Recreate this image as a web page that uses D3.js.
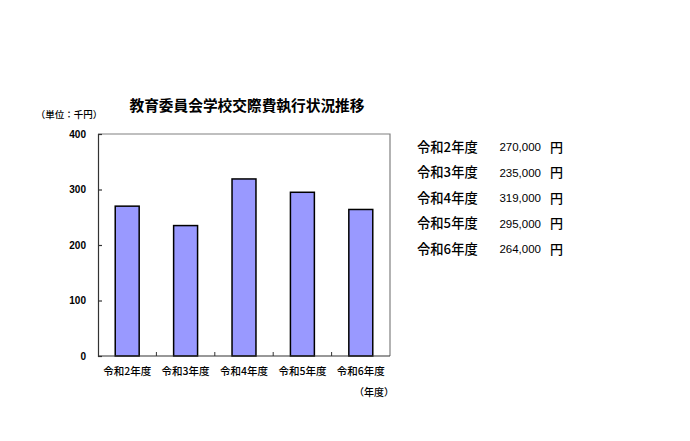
<!DOCTYPE html>
<html>
<head>
<meta charset="utf-8">
<script src="https://cdn.jsdelivr.net/npm/d3@7"></script>
<style>
  body { margin: 0; background: #fff; }
  text { font-family: "Noto Sans CJK JP", "Liberation Sans", sans-serif; fill: #000; }
</style>
</head>
<body>
<script>
const years = ["令和2年度", "令和3年度", "令和4年度", "令和5年度", "令和6年度"];
const amounts = [270, 235, 319, 295, 264]; // 千円
const listAmounts = ["270,000", "235,000", "319,000", "295,000", "264,000"];
const yTicks = [0, 100, 200, 300, 400];

const width = 690;
const height = 441;
const plot = { left: 98, right: 390, top: 134, bottom: 356 };

const svg = d3
  .select("body")
  .append("svg")
  .attr("width", width)
  .attr("height", height);

const x = d3
  .scaleBand()
  .domain(years)
  .range([plot.left, plot.right])
  .paddingInner(0.59)
  .paddingOuter(0.295);

const xEdge = d3
  .scaleBand()
  .domain(years)
  .range([plot.left, plot.right]);

const y = d3.scaleLinear().domain([0, 400]).range([plot.bottom, plot.top]);

// plot frame (top / right in gray)
svg
  .append("path")
  .attr("d", `M${plot.left},${plot.top}H${plot.right}V${plot.bottom}`)
  .attr("fill", "none")
  .attr("stroke", "#808080")
  .attr("stroke-width", 1.2);

// bars
svg
  .append("g")
  .selectAll("rect")
  .data(amounts)
  .join("rect")
  .attr("x", (d, i) => x(years[i]))
  .attr("y", (d) => y(d))
  .attr("width", x.bandwidth())
  .attr("height", (d) => y(0) - y(d))
  .attr("fill", "#9999ff")
  .attr("stroke", "#000")
  .attr("stroke-width", 1.5);

// y axis
const yAxis = svg
  .append("g")
  .attr("transform", `translate(${plot.left},0)`)
  .call(d3.axisRight(y).tickValues(yTicks).tickSize(4).tickFormat(""));
yAxis.selectAll("path, line").attr("stroke", "#333").attr("stroke-width", 1.2);

svg
  .append("g")
  .selectAll("text")
  .data(yTicks)
  .join("text")
  .attr("x", plot.left - 12)
  .attr("y", (d) => y(d))
  .attr("dy", "0.35em")
  .attr("text-anchor", "end")
  .style("font-family", "'Liberation Sans', Arial, sans-serif")
  .style("font-size", "10px")
  .style("font-weight", "bold")
  .text((d) => d);

// x axis: ticks at category boundaries, pointing up
const xAxis = svg.append("g");
xAxis
  .append("line")
  .attr("x1", plot.left)
  .attr("x2", plot.right)
  .attr("y1", plot.bottom)
  .attr("y2", plot.bottom)
  .attr("stroke", "#333")
  .attr("stroke-width", 1.2);
xAxis
  .selectAll(".tick")
  .data(years.slice(1))
  .join("line")
  .attr("x1", (d) => xEdge(d))
  .attr("x2", (d) => xEdge(d))
  .attr("y1", plot.bottom)
  .attr("y2", plot.bottom - 4)
  .attr("stroke", "#333");

svg
  .append("g")
  .selectAll("text")
  .data(years)
  .join("text")
  .attr("x", (d) => xEdge(d) + xEdge.bandwidth() / 2)
  .attr("y", 371)
  .attr("dy", "0.35em")
  .attr("text-anchor", "middle")
  .style("font-size", "10.5px")
  .style("font-weight", "500")
  .text((d) => d);

// title and unit labels
svg
  .append("text")
  .attr("x", 247)
  .attr("y", 106)
  .attr("dy", "0.35em")
  .attr("text-anchor", "middle")
  .style("font-size", "14.7px")
  .style("font-weight", "bold")
  .text("教育委員会学校交際費執行状況推移");

svg
  .append("text")
  .attr("x", 69)
  .attr("y", 115)
  .attr("dy", "0.35em")
  .attr("text-anchor", "middle")
  .style("font-size", "9.5px")
  .style("font-weight", "500")
  .text("（単位：千円）");

svg
  .append("text")
  .attr("x", 374)
  .attr("y", 392)
  .attr("dy", "0.35em")
  .attr("text-anchor", "middle")
  .style("font-size", "10px")
  .style("font-weight", "500")
  .text("（年度）");

// list on the right
const rowY = d3.scalePoint().domain(years).range([147, 249]);
const list = svg
  .append("g")
  .selectAll("g")
  .data(years)
  .join("g")
  .attr("transform", (d) => `translate(0,${rowY(d)})`);

list
  .append("text")
  .attr("x", 417)
  .attr("dy", "0.35em")
  .style("font-size", "13.3px")
  .style("font-weight", "500")
  .text((d) => d);

list
  .append("text")
  .attr("x", 541)
  .attr("dy", "0.35em")
  .attr("text-anchor", "end")
  .style("font-family", "'Liberation Sans', Arial, sans-serif")
  .style("font-size", "11.5px")
  .text((d, i) => listAmounts[i]);

list
  .append("text")
  .attr("x", 550)
  .attr("dy", "0.35em")
  .style("font-size", "13px")
  .style("font-weight", "500")
  .text("円");
</script>
</body>
</html>
